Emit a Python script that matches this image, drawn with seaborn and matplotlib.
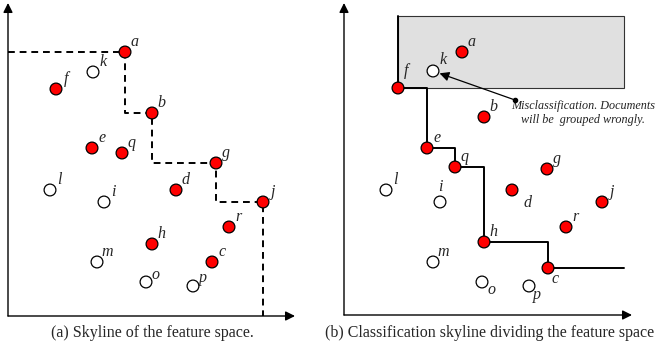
import matplotlib
matplotlib.use("Agg")
import matplotlib.pyplot as plt
import seaborn as sns
import pandas as pd
from matplotlib.patches import Rectangle

# ---- data ----
labels = ['a', 'b', 'c', 'd', 'e', 'f', 'g', 'h', 'i', 'j', 'k', 'l', 'm', 'o', 'p', 'q', 'r']
relevant = [True, True, True, True, True, True, True, True, False, True, False, False, False,
            False, False, True, True]
x_a = [11.7, 14.4, 20.4, 16.8, 8.4, 4.8, 20.8, 14.4, 9.6, 25.5, 8.5, 4.2, 8.9, 13.8, 18.5, 11.4, 22.1]
y_a = [26.4, 20.3, 5.4, 12.6, 16.8, 22.7, 15.3, 7.2, 11.4, 11.4, 24.4, 12.6, 5.4, 3.4, 3.0, 16.3, 8.9]
x_b = [11.8, 14.0, 20.4, 16.8, 8.3, 5.4, 20.3, 14.0, 9.6, 25.8, 8.9, 4.2, 8.9, 13.8, 18.5, 11.1, 22.2]
y_b = [26.3, 19.8, 4.7, 12.5, 16.7, 22.7, 14.6, 7.3, 11.3, 11.3, 24.4, 12.5, 5.3, 3.3, 2.9, 14.8, 8.8]
skyline_a = ['a', 'b', 'g', 'j']
skyline_b = ['f', 'e', 'q', 'h', 'c']
region_b_right = 28.0
region_b_top = 29.9
misclass_point = 'k'
note_text = "Misclassification. Documents\nwill be  grouped wrongly."
caption_a = "(a) Skyline of the feature space."
caption_b = "(b) Classification skyline dividing the feature space"

sns.set_theme(style="white")
plt.rcParams['font.family'] = ['Liberation Serif', 'DejaVu Serif']

W, H = 657, 352
fig = plt.figure(figsize=(W / 100, H / 100), dpi=100)

def make_df(xs, ys):
    return pd.DataFrame({'label': labels, 'x': xs, 'y': ys,
                         'cls': ['relevant' if r else 'other' for r in relevant]})

df_a = make_df(x_a, y_a)
df_b = make_df(x_b, y_b)

ax_a = fig.add_axes([8 / W, 1 - 316 / H, 287 / W, 313 / H])
ax_b = fig.add_axes([344 / W, 1 - 315 / H, 288 / W, 312 / H])
ax_a.set_xlim(0, 28.7); ax_a.set_ylim(0, 31.3)
ax_b.set_xlim(0, 28.8); ax_b.set_ylim(0, 31.2)

for ax in (ax_a, ax_b):
    ax.set_axis_off()
    ax.annotate('', xy=(1, 0), xytext=(0, 0), xycoords='axes fraction',
                arrowprops=dict(arrowstyle='-|>', color='black', lw=1.0,
                                mutation_scale=14, shrinkA=0, shrinkB=0))
    ax.annotate('', xy=(0, 1), xytext=(0, 0), xycoords='axes fraction',
                arrowprops=dict(arrowstyle='-|>', color='black', lw=1.0,
                                mutation_scale=14, shrinkA=0, shrinkB=0))

pal = {'relevant': '#ff0000', 'other': 'white'}

# ---- panel (a) skyline: dashed staircase ----
pa = df_a.set_index('label')
sx = [0] + [pa.loc[n, 'x'] for n in skyline_a] + [pa.loc[skyline_a[-1], 'x']]
sy = [pa.loc[skyline_a[0], 'y']] + [pa.loc[n, 'y'] for n in skyline_a] + [0]
ax_a.plot(sx, sy, drawstyle='steps-pre', color='black', lw=1.4,
          linestyle=(0, (3.5, 2.5)), zorder=2, clip_on=False)

# ---- panel (b) region + skyline ----
pb = df_b.set_index('label')
fx, fy = pb.loc[skyline_b[0], 'x'], pb.loc[skyline_b[0], 'y']
ax_b.add_patch(Rectangle((fx, fy), region_b_right - fx, region_b_top - fy,
                         facecolor='#e0e0e0', edgecolor='#333333', lw=0.8, zorder=1))
bx = [fx] + [pb.loc[n, 'x'] for n in skyline_b] + [region_b_right]
by = [region_b_top] + [pb.loc[n, 'y'] for n in skyline_b] + [pb.loc[skyline_b[-1], 'y']]
ax_b.plot(bx, by, drawstyle='steps-post', color='black', lw=1.4, zorder=2, clip_on=False)

for ax, df in ((ax_a, df_a), (ax_b, df_b)):
    sns.scatterplot(data=df, x='x', y='y', hue='cls', palette=pal, s=72,
                    edgecolor='black', linewidth=0.9, legend=False, ax=ax,
                    zorder=3, clip_on=False)

label_style = dict(textcoords='offset points', ha='center', va='center',
                   fontsize=11.5, style='italic', zorder=4)
default_off = (7, 7.5)
offs_a = {'o': (6.5, 5), 'p': (7, 5.5)}
offs_b = {'d': (11, -9.5), 'o': (6.5, -6), 'p': (6, -6.5), 'c': (5, -8),
          'i': (0.5, 10.5), 'f': (6, 12.5), 'k': (7, 8)}
for ax, df, offs in ((ax_a, df_a, offs_a), (ax_b, df_b, offs_b)):
    for _, r in df.iterrows():
        ax.annotate(r['label'], (r['x'], r['y']), xytext=offs.get(r['label'], default_off),
                    **label_style)

# ---- misclassification note ----
kx, ky = pb.loc[misclass_point, 'x'], pb.loc[misclass_point, 'y']
tail = (17.1, 21.5)
ax_b.annotate('', xy=(kx, ky), xytext=tail,
              arrowprops=dict(arrowstyle='-|>', color='black', lw=0.9,
                              mutation_scale=14, shrinkA=0, shrinkB=5), zorder=5)
ax_b.plot([tail[0]], [tail[1]], 'o', ms=3, color='black', zorder=5)
ax_b.text(23.9, 20.2, note_text, ha='center', va='center', fontsize=8.7,
          style='italic', linespacing=1.15, color='#222222')

fig.text(152 / W, 1 - 333 / H, caption_a, ha='center', va='center', fontsize=11.5)
fig.text(490 / W, 1 - 333 / H, caption_b, ha='center', va='center', fontsize=11.5)

fig.savefig('out.png', dpi=100)
